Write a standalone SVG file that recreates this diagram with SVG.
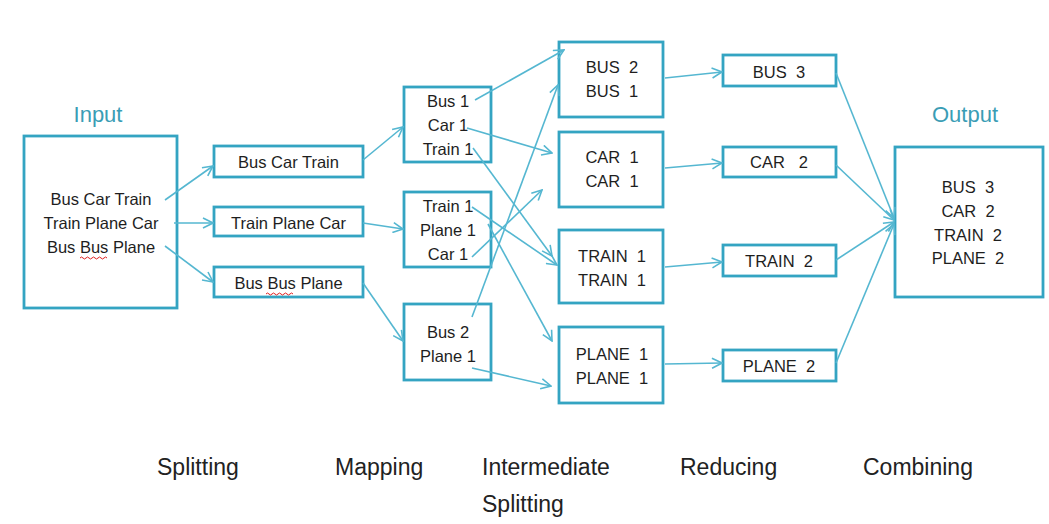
<svg xmlns="http://www.w3.org/2000/svg" width="1049" height="524" viewBox="0 0 1049 524" xml:space="preserve">
<style>
.box{fill:#fff;stroke:#34a4c2;stroke-width:2.8}
.t{font-family:"Liberation Sans",Arial,sans-serif;font-size:16.5px;fill:#1e1e1e;text-anchor:middle;white-space:pre}
.h{font-family:"Liberation Sans",Arial,sans-serif;font-size:22px;fill:#3a9db5;text-anchor:middle}
.b{font-family:"Liberation Sans",Arial,sans-serif;font-size:23px;fill:#222;text-anchor:start}
.c{fill:none;stroke:#55b7d1;stroke-width:1.6}
.sq{fill:none;stroke:#e02020;stroke-width:1}
</style>
<defs>
<marker id="ah" markerUnits="userSpaceOnUse" markerWidth="12" markerHeight="12" viewBox="0 0 12 12" refX="11" refY="6" orient="auto">
<path d="M1,1 L11,6 L1,11" fill="none" stroke="#55b7d1" stroke-width="1.6"/>
</marker>
</defs>
<rect width="1049" height="524" fill="#fff"/>

<text class="h" x="98" y="122">Input</text>
<text class="h" x="965" y="122">Output</text>

<g id="input">
<rect class="box" x="24" y="136" width="153" height="172"/>
<text class="t" x="101" y="205">Bus Car Train</text>
<text class="t" x="101" y="229">Train Plane Car</text>
<text class="t" x="101" y="253">Bus Bus Plane</text>
<path class="sq" d="M80,258 q1.5,-2 3,0 t3,0 t3,0 t3,0 t3,0 t3,0 t3,0 t3,0 t3,0"/>
</g>

<g id="split1"><rect class="box" x="214" y="146" width="149" height="31"/><text class="t" x="288.5" y="168">Bus Car Train</text></g>
<g id="split2"><rect class="box" x="214" y="207" width="149" height="29"/><text class="t" x="288.5" y="229">Train Plane Car</text></g>
<g id="split3"><rect class="box" x="214" y="267" width="149" height="30"/><text class="t" x="288.5" y="289">Bus Bus Plane</text>
<path class="sq" d="M266,294 q1.5,-2 3,0 t3,0 t3,0 t3,0 t3,0 t3,0 t3,0 t3,0 t3,0"/></g>

<g id="map1"><rect class="box" x="404" y="87" width="87" height="75"/>
<text class="t" x="448" y="107">Bus 1</text><text class="t" x="448" y="131">Car 1</text><text class="t" x="448" y="155">Train 1</text></g>
<g id="map2"><rect class="box" x="404" y="192" width="87" height="75"/>
<text class="t" x="448" y="212">Train 1</text><text class="t" x="448" y="236">Plane 1</text><text class="t" x="448" y="260">Car 1</text></g>
<g id="map3"><rect class="box" x="404" y="304" width="87" height="76"/>
<text class="t" x="448" y="338">Bus 2</text><text class="t" x="448" y="362">Plane 1</text></g>

<g id="inter1"><rect class="box" x="559" y="42" width="104" height="75"/>
<text class="t" x="612" y="73">BUS  2</text><text class="t" x="612" y="97">BUS  1</text></g>
<g id="inter2"><rect class="box" x="559" y="132" width="104" height="75"/>
<text class="t" x="612" y="163">CAR  1</text><text class="t" x="612" y="187">CAR  1</text></g>
<g id="inter3"><rect class="box" x="559" y="230" width="104" height="73"/>
<text class="t" x="612" y="262">TRAIN  1</text><text class="t" x="612" y="286">TRAIN  1</text></g>
<g id="inter4"><rect class="box" x="559" y="327" width="104" height="76"/>
<text class="t" x="612" y="360">PLANE  1</text><text class="t" x="612" y="384">PLANE  1</text></g>

<g id="red1"><rect class="box" x="723" y="55" width="113" height="31"/><text class="t" x="779" y="78">BUS  3</text></g>
<g id="red2"><rect class="box" x="723" y="147" width="113" height="30"/><text class="t" x="779" y="168">CAR   2</text></g>
<g id="red3"><rect class="box" x="723" y="245" width="113" height="31"/><text class="t" x="779" y="267">TRAIN  2</text></g>
<g id="red4"><rect class="box" x="723" y="350" width="113" height="31"/><text class="t" x="779" y="372">PLANE  2</text></g>

<g id="output"><rect class="box" x="895" y="147" width="148" height="150"/>
<text class="t" x="968" y="193">BUS  3</text><text class="t" x="968" y="217">CAR  2</text><text class="t" x="968" y="241">TRAIN  2</text><text class="t" x="968" y="264">PLANE  2</text></g>

<g id="connectors" class="c" marker-end="url(#ah)">
<line x1="165" y1="200" x2="213" y2="166"/>
<line x1="174" y1="223" x2="213" y2="223"/>
<line x1="165" y1="246" x2="213" y2="282"/>
<line x1="363" y1="160" x2="403" y2="127"/>
<line x1="363" y1="223" x2="403" y2="229"/>
<line x1="363" y1="283" x2="403" y2="341"/>
<line x1="475" y1="100" x2="564" y2="50"/>
<line x1="467" y1="128" x2="552" y2="153"/>
<line x1="473" y1="148" x2="552" y2="256"/>
<line x1="472" y1="207" x2="557" y2="265"/>
<line x1="472" y1="257" x2="542" y2="190"/>
<line x1="488" y1="224" x2="552" y2="341"/>
<line x1="472" y1="317" x2="558" y2="85"/>
<line x1="472" y1="368" x2="551" y2="386"/>
<line x1="665" y1="78" x2="722" y2="72"/>
<line x1="665" y1="168" x2="722" y2="163"/>
<line x1="665" y1="267" x2="722" y2="262"/>
<line x1="665" y1="364" x2="722" y2="363"/>
<line x1="836" y1="73" x2="894" y2="218"/>
<line x1="836" y1="165" x2="894" y2="220"/>
<line x1="836" y1="260" x2="894" y2="222"/>
<line x1="836" y1="363" x2="894" y2="224"/>
</g>

<text class="b" x="157" y="475">Splitting</text>
<text class="b" x="335" y="475">Mapping</text>
<text class="b" x="482" y="475">Intermediate</text>
<text class="b" x="482" y="512">Splitting</text>
<text class="b" x="680" y="475">Reducing</text>
<text class="b" x="863" y="475">Combining</text>
</svg>
